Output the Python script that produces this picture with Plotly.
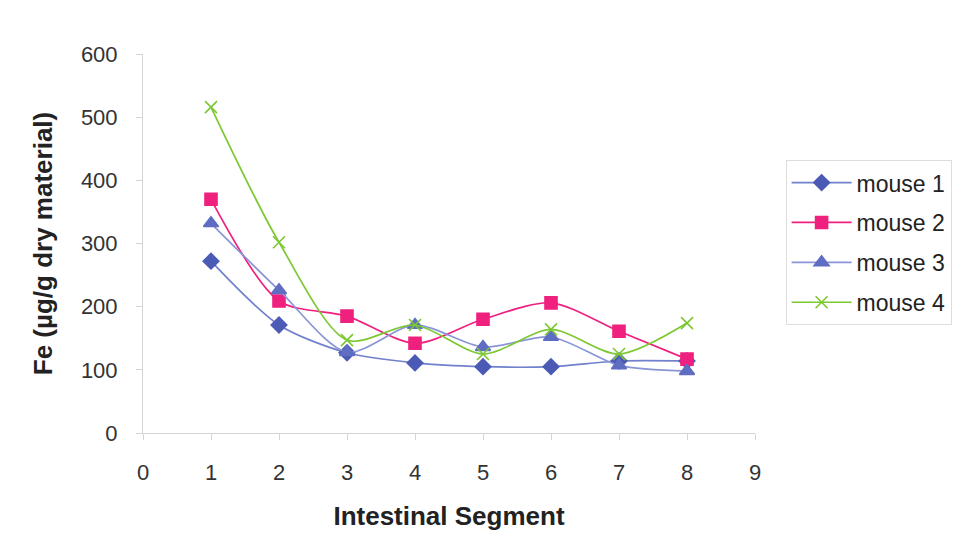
import plotly.graph_objects as go

segments = [1, 2, 3, 4, 5, 6, 7, 8]
mouse1 = [272, 171, 127, 111, 105, 105, 114, 114]
mouse2 = [370, 209, 185, 142, 180, 206, 161, 117]
mouse3 = [332, 226, 128, 171, 136, 152, 107, 98]
mouse4 = [516, 302, 147, 171, 125, 164, 125, 174]

series = [
    ("mouse 1", mouse1, "#7181CC", "#4B5BB5", "diamond", 12),
    ("mouse 2", mouse2, "#F0207F", "#F0207F", "square", 12),
    ("mouse 3", mouse3, "#8A95D8", "#5F6DC2", "triangle-up", 13),
    ("mouse 4", mouse4, "#7CC832", "#7CC832", "x-thin-open", 12),
]

FONT = "Liberation Sans, Arial, sans-serif"

fig = go.Figure()
for name, vals, lc, mc, sym, size in series:
    fig.add_trace(go.Scatter(
        x=segments, y=vals, name=name, legendgroup=name, mode="lines+markers",
        line=dict(color=lc, width=1.7, shape="spline", smoothing=0.8),
        marker=dict(symbol=sym, size=size, color=mc,
                    line=dict(color=mc, width=1.6)),
    ))

tick_font = dict(family=FONT, size=22, color="#333333")
title_font = dict(family=FONT, size=26, color="#222222")

axis_common = dict(
    showgrid=False, zeroline=False,
    showline=True, linecolor="#D5D5D5", linewidth=1,
    ticks="outside", ticklen=6, tickcolor="#D5D5D5",
    tickfont=tick_font, ticklabelstandoff=14,
)

fig.update_layout(
    width=965, height=560,
    margin=dict(l=143, r=210, t=54, b=127),
    paper_bgcolor="white", plot_bgcolor="white",
    font=tick_font,
    showlegend=True,
    legend=dict(
        x=1.05, y=0.72, xanchor="left", yanchor="top",
        bordercolor="#DDDDDD", borderwidth=1,
        font=dict(family=FONT, size=23, color="#222222"),
        itemwidth=60, tracegroupgap=7,
    ),
    xaxis=dict(
        range=[0, 9], tickmode="array", tickvals=list(range(10)),
        title=dict(text="<b>Intestinal Segment</b>", font=title_font, standoff=22),
        **axis_common,
    ),
    yaxis=dict(
        range=[0, 600], tickmode="array", tickvals=[0, 100, 200, 300, 400, 500, 600],
        title=dict(text="<b>Fe (µg/g dry material)</b>", font=title_font, standoff=20),
        **axis_common,
    ),
)

fig.write_html("out.html")
